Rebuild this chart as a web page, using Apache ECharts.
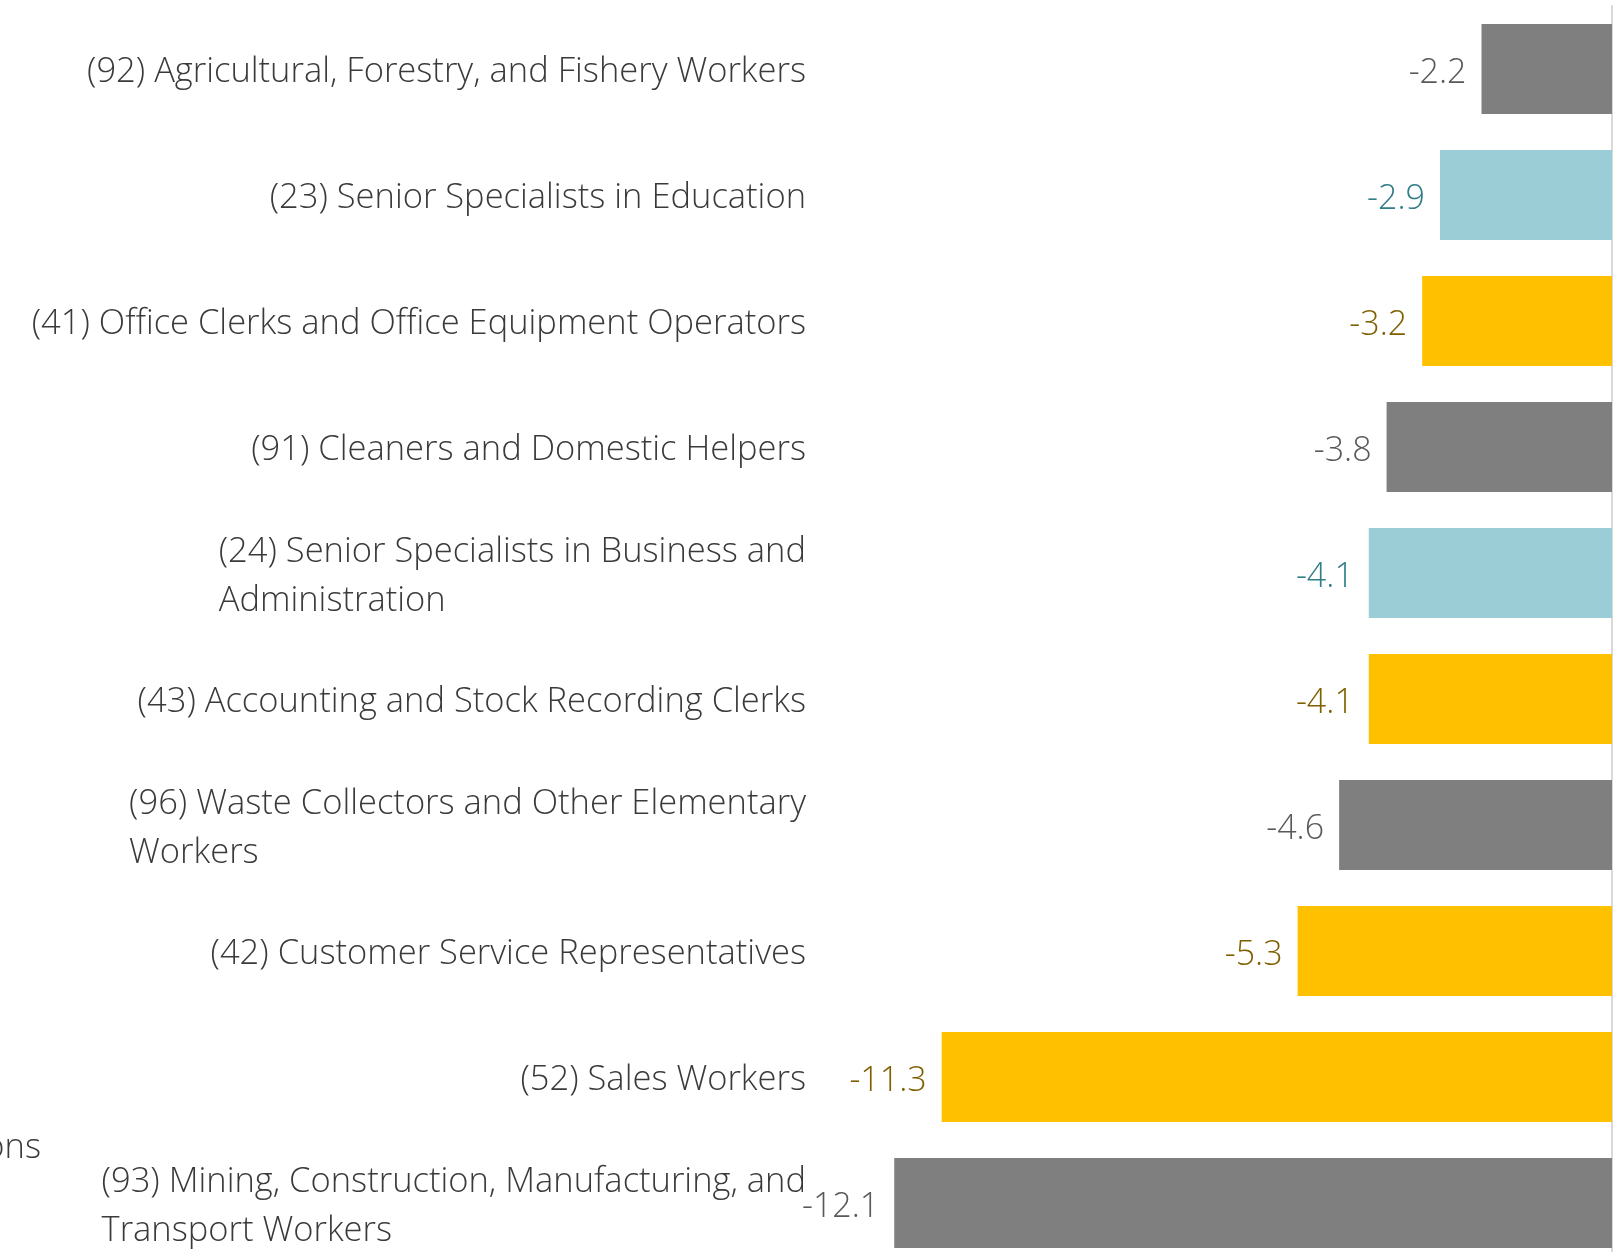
<!DOCTYPE html>
<html>
<head>
<meta charset="utf-8">
<script src="https://cdn.jsdelivr.net/npm/echarts@6/dist/echarts.min.js"></script>
<style>
  html, body { margin: 0; padding: 0; background: #fff; }
  #chart { width: 1622px; height: 1252px; }
</style>
</head>
<body>
<div id="chart"></div>
<script>
// occupations, top to bottom
const categories = [
  '(92) Agricultural, Forestry, and Fishery Workers',
  '(23) Senior Specialists in Education',
  '(41) Office Clerks and Office Equipment Operators',
  '(91) Cleaners and Domestic Helpers',
  '(24) Senior Specialists in Business and\nAdministration',
  '(43) Accounting and Stock Recording Clerks',
  '(96) Waste Collectors and Other Elementary\nWorkers',
  '(42) Customer Service Representatives',
  '(52) Sales Workers',
  '(93) Mining, Construction, Manufacturing, and\nTransport Workers'
];
const values = [-2.2, -2.9, -3.2, -3.8, -4.1, -4.1, -4.6, -5.3, -11.3, -12.1];
const groups = ['elementary', 'professional', 'clerical', 'elementary', 'professional',
                'clerical', 'elementary', 'clerical', 'clerical', 'elementary'];

const barColor = { elementary: '#7f7f7f', professional: '#9bcdd7', clerical: '#ffc000' };
const labelColor = { elementary: '#595959', professional: '#317d87', clerical: '#7f6000' };

const FONT = '"Open Sans", "Noto Sans", sans-serif';

const chart = echarts.init(document.getElementById('chart'));

const option = {
  animation: false,
  grid: { left: 826, right: 10, top: 6, height: 1260, containLabel: false, outerBoundsMode: 'none' },
  xAxis: {
    type: 'value',
    min: -13.25,
    max: 0,
    show: false
  },
  yAxis: [
    {
      type: 'category',
      data: categories,
      inverse: true,
      position: 'left',
      axisLine: { show: false, onZero: false },
      axisTick: { show: false },
      axisLabel: {
        margin: 20,
        align: 'right',
        padding: [7, 0, 0, 0],
        // lines of a wrapped label stay left aligned inside a right-anchored block
        formatter: v => v.split('\n').map(l => '{l|' + l + '}').join('\n'),
        rich: {
          l: {
            align: 'left',
            color: '#3a3a3a',
            fontFamily: FONT,
            fontWeight: 300,
            fontSize: 34.5,
            lineHeight: 49
          }
        }
      }
    },
    {
      type: 'category',
      data: categories,
      inverse: true,
      position: 'right',
      axisLine: { show: true, onZero: false, lineStyle: { color: '#d9d9d9', width: 2 } },
      axisTick: { show: false },
      axisLabel: { show: false }
    }
  ],
  series: [
    {
      type: 'bar',
      yAxisIndex: 0,
      barCategoryGap: '28.5%',
      data: values.map((v, i) => ({
        value: v,
        itemStyle: { color: barColor[groups[i]] },
        label: { color: labelColor[groups[i]] }
      })),
      label: {
        show: true,
        position: 'left',
        distance: 15,
        offset: [0, 4],
        fontFamily: FONT,
        fontWeight: 300,
        fontSize: 34,
        formatter: p => p.value.toFixed(1)
      }
    }
  ],
  graphic: [
    {
      type: 'text',
      right: 1581,
      top: 1131,
      style: {
        text: 'Occupations',
        fill: '#3a3a3a',
        font: '300 34.5px ' + FONT,
        textAlign: 'right'
      }
    }
  ]
};

chart.setOption(option);
</script>
</body>
</html>
